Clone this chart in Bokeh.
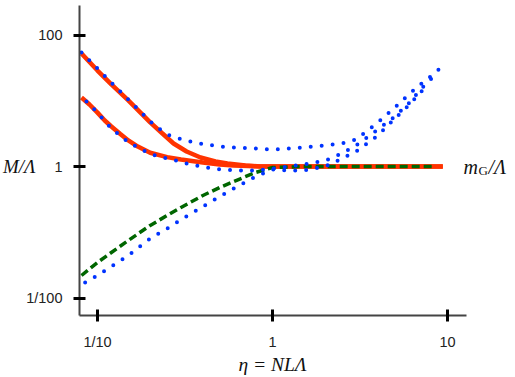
from bokeh.plotting import figure
from bokeh.models import Label, FixedTicker, LogAxis
from bokeh.embed import file_html
from bokeh.resources import INLINE

# ---- data (eta = N L Lambda, M / Lambda) ----
red_upper_eta = [0.081, 0.1, 0.12, 0.15, 0.2, 0.235, 0.272, 0.323, 0.388, 0.472, 0.553, 0.7, 0.85, 1.0, 1.5, 3.0, 5.0, 9.4]
red_upper_M   = [52.3, 28.8, 17.7, 10.1, 4.7, 3.18, 2.24, 1.69, 1.37, 1.19, 1.11, 1.035, 1.0, 1.0, 1.0, 1.0, 1.0, 1.0]

red_lower_eta = [0.081, 0.09, 0.1, 0.11, 0.12, 0.135, 0.15, 0.17, 0.2, 0.25, 0.3, 0.4, 0.5, 0.6, 0.8, 1.0, 1.5, 3.0, 5.0, 9.4]
red_lower_M   = [11.2, 8.77, 6.6, 5.0, 4.06, 3.12, 2.49, 2.01, 1.62, 1.39, 1.28, 1.15, 1.07, 1.035, 1.01, 1.0, 1.0, 1.0, 1.0, 1.0]

green_eta = [0.081, 0.1, 0.12, 0.15, 0.2, 0.25, 0.3, 0.4, 0.5, 0.6, 0.8, 1.0, 1.5, 3.0, 5.0, 8.3]
green_M   = [0.022, 0.0347, 0.0492, 0.075, 0.127, 0.18, 0.238, 0.362, 0.48, 0.591, 0.811, 0.965, 1.0, 1.0, 1.0, 1.0]

blue_upper_eta = [0.081, 0.1, 0.12, 0.15, 0.2, 0.22, 0.25, 0.28, 0.33, 0.4, 0.5, 0.6, 0.8, 1.0, 1.5, 2.0, 2.5, 3.0, 4.0, 5.0, 6.0, 7.0, 8.0, 9.5]
blue_upper_M   = [54.2, 30.9, 18.9, 10.4, 4.84, 3.92, 3.07, 2.76, 2.44, 2.2, 2.02, 1.94, 1.88, 1.81, 1.94, 2.09, 2.24, 2.57, 4.67, 7.9, 12.4, 17.7, 23.4, 34.4]

blue_mid_eta = [0.0865, 0.0961, 0.1069, 0.1172, 0.1318, 0.1484, 0.1693, 0.1931, 0.2203, 0.2545, 0.2942, 0.34, 0.393, 0.454, 0.525, 0.615, 0.8, 1.0, 1.5, 2.0, 2.5, 3.0, 4.0, 5.0, 6.0, 7.0, 8.65]
blue_mid_M   = [9.75, 7.36, 5.37, 4.06, 3.07, 2.40, 1.95, 1.63, 1.42, 1.32, 1.19, 1.07, 1.0, 0.93, 0.90, 0.87, 0.87, 0.93, 1.07, 1.23, 1.58, 2.09, 3.65, 5.76, 9.08, 14.8, 26.0]

blue_lower_eta = [0.085, 0.1, 0.12, 0.15, 0.2, 0.25, 0.3, 0.4, 0.5, 0.6, 0.8, 1.0, 1.2, 1.5, 2.0, 2.5, 3.0, 4.0, 5.0, 6.0, 7.0, 7.8]
blue_lower_M   = [0.0172, 0.022, 0.0301, 0.0443, 0.0804, 0.114, 0.156, 0.246, 0.35, 0.463, 0.705, 0.90, 0.87, 0.87, 1.0, 1.32, 1.69, 2.96, 5.37, 8.47, 13.3, 18.3]

x_ticks = [0.1, 1, 10]
x_tick_labels = ["1/10", "1", "10"]
y_ticks = [0.01, 1, 100]
y_tick_labels = ["1/100", "1", "100"]

# axis extents (data units)
x_axis_bounds = (10 ** -1.103, 10 ** 1.109)
y_axis_bounds = (10 ** -2.266, 10 ** 2.449)

RED = "#ff3300"
GREEN = "#006600"
BLUE = "#0033ff"

W, H = 515, 377
PX_PER_DEC_X = 175.0
PX_PER_DEC_Y = 65.75
X0_PX, Y0_PX = 272.0, 166.0   # pixel position of eta=1, M=1


def ex(px):
    return 10 ** ((px - X0_PX) / PX_PER_DEC_X)


def ey(py):
    return 10 ** ((Y0_PX - py) / PX_PER_DEC_Y)


p = figure(width=W, height=H, x_axis_type="log", y_axis_type="log",
           x_range=(ex(0), ex(W)), y_range=(ey(H), ey(0)),
           x_axis_location=None, y_axis_location=None, title=None,
           output_backend="svg", toolbar_location=None,
           min_border_left=0, min_border_right=0, min_border_top=0, min_border_bottom=0)
p.outline_line_color = None
p.xgrid.visible = False
p.ygrid.visible = False
p.background_fill_color = "white"
p.border_fill_color = "white"

xax = LogAxis(fixed_location=y_axis_bounds[0], bounds=x_axis_bounds)
yax = LogAxis(fixed_location=x_axis_bounds[0], bounds=y_axis_bounds)
p.add_layout(xax, "below")
p.add_layout(yax, "left")

for ax, ticks, labels, standoff in ((xax, x_ticks, x_tick_labels, 13),
                                    (yax, y_ticks, y_tick_labels, 11)):
    ax.ticker = FixedTicker(ticks=ticks)
    ax.major_label_overrides = {t: l for t, l in zip(ticks, labels)}
    ax.minor_tick_line_color = None
    ax.major_tick_in = 6
    ax.major_tick_out = 6
    ax.major_tick_line_width = 3
    ax.major_tick_line_color = "black"
    ax.axis_line_width = 2
    ax.axis_line_color = "#444444"
    ax.major_label_text_font = "Liberation Sans"
    ax.major_label_text_font_size = "14.5px"
    ax.major_label_text_color = "#222222"
    ax.major_label_standoff = standoff

# curves
p.line(red_upper_eta, red_upper_M, line_color=RED, line_width=4.5)
p.line(red_lower_eta, red_lower_M, line_color=RED, line_width=4.5)
p.line(green_eta, green_M, line_color=GREEN, line_width=3.5, line_dash="8 4")
for xs, ys in ((blue_upper_eta, blue_upper_M), (blue_mid_eta, blue_mid_M), (blue_lower_eta, blue_lower_M)):
    p.line(xs, ys, line_color=BLUE, line_width=4, line_cap="round", line_dash="0 11")

serif = "Liberation Serif"


def lab(px, py, text, size, align="left", italic=True):
    return Label(x=ex(px), y=ey(py), text=text, text_font=serif, text_font_size=size,
                 text_font_style="italic" if italic else "normal",
                 text_align=align, text_baseline="middle", text_color="#111111")


# axis titles
p.add_layout(lab(35, 166, "M/Λ", "19px", align="right"))
p.add_layout(lab(463, 166, "m", "20px"))
p.add_layout(lab(478, 170, "G", "13px", italic=False))
p.add_layout(lab(488, 166, "/Λ", "20px"))
p.add_layout(lab(272, 364, "η = NLΛ", "19.5px", align="center"))

open("out.html", "w").write(file_html(p, INLINE))
